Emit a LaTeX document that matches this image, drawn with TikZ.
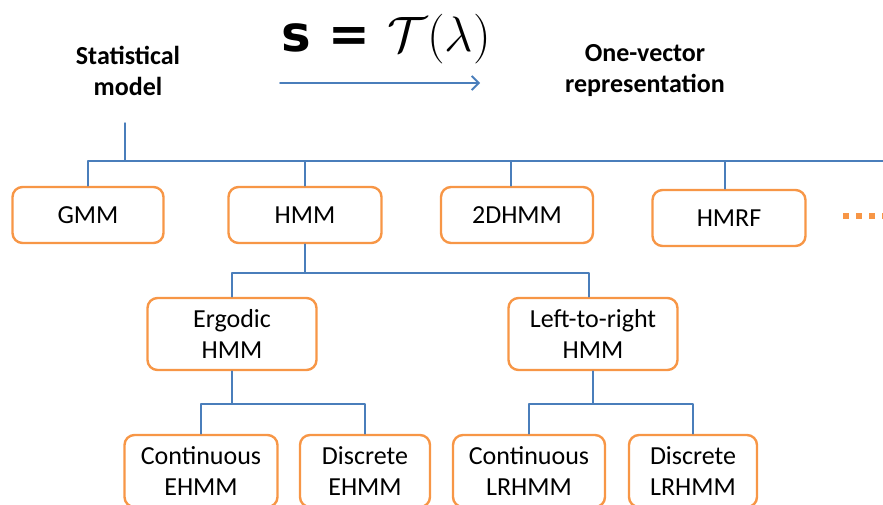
\documentclass[tikz,border=0pt]{standalone}
\usepackage{fontspec}
\setmainfont{Carlito}
\newfontfamily\formulafont{DejaVu Sans}
\usetikzlibrary{arrows.meta,positioning}
\definecolor{linkblue}{HTML}{4A7EBB}
\definecolor{boxorange}{HTML}{F79646}

\begin{document}
\begin{tikzpicture}[
  x=1pt,
  y=-1pt,
  line cap=round,
  line join=round,
  font=\fontsize{26}{31}\selectfont,
  model/.style={draw=boxorange, line width=2.4pt, rounded corners=10pt, fill=white, align=center, inner sep=0pt, minimum height=56pt},
  subtype/.style={model, minimum height=72pt, minimum width=169pt},
  variant/.style={model, minimum height=72pt},
  link/.style={draw=linkblue, line width=1.5pt},
  heading/.style={font=\fontsize{26}{31}\selectfont\bfseries, align=center}
]

\useasboundingbox (0,0) rectangle (883,504);
\clip (0,0) rectangle (883,504);

% Header: mapping from model to vector.
\node[heading] (statmodel) at (128,71) {Statistical\\model};
\node[heading] (onevector) at (645,71) {One-vector\\representation};
\node[font=\Huge, scale=2.0, inner sep=0pt, anchor=base] (mapping) at (386,51)
  {{\formulafont\bfseries s = }$\mathcal{T}(\lambda)$};
\coordinate (maptail) at (280,83);
\coordinate (maphead) at (480,83);
\draw[link, line width=1.8pt, -{Straight Barb[length=7pt,width=14pt]}] (maptail) -- (maphead);

% First level of models.
\node[model, minimum width=151pt] (gmm) at (88,215) {GMM};
\node[model, minimum width=153pt] (hmm) at (305,215) {HMM};
\node[model, minimum width=152pt] (twodhmm) at (517,215) {2DHMM};
\node[model, minimum width=153pt] (hmrf) at (729,218) {HMRF};
\coordinate (more) at (843,216);
\draw[boxorange, line width=6pt, line cap=butt, dash pattern=on 6pt off 7pt] (more) -- ++(50,0);

% HMM topologies.
\node[subtype] (ergodic) at (232,334) {Ergodic\\HMM};
\node[subtype] (lefttoright) at (593,334) {Left-to-right\\HMM};

% Observation types.
\node[variant, minimum width=153pt] (contehmm) at (201,471) {Continuous\\EHMM};
\node[variant, minimum width=130pt] (discehmm) at (365,471) {Discrete\\EHMM};
\node[variant, minimum width=152pt] (contlrhmm) at (529,471) {Continuous\\LRHMM};
\node[variant, minimum width=128pt] (disclrhmm) at (693,471) {Discrete\\LRHMM};

% Tree connectors.
\coordinate (root) at (125,123);
\coordinate (rootbus) at (883,161);
\draw[link] (root) -- (root |- rootbus);
\draw[link] (gmm.north) |- (rootbus);
\foreach \m/\dx in {hmm/0,twodhmm/-6,hmrf/-4}{
  \draw[link] ([xshift=\dx pt]\m.north) -- ([xshift=\dx pt]\m.north |- rootbus);
}

\draw[link] (hmm.south) -- ++(0,29) coordinate (hmmbus);
\draw[link] (ergodic.north) |- (hmmbus) -| ([xshift=-4pt]lefttoright.north);

\draw[link] (ergodic.south) -- ++(0,33) coordinate (ergbus);
\draw[link] (contehmm.north) |- (ergbus) -| (discehmm.north);

\draw[link] (lefttoright.south) -- ++(0,33) coordinate (lrbus);
\draw[link] (contlrhmm.north) |- (lrbus) -| (disclrhmm.north);

\end{tikzpicture}
\end{document}
